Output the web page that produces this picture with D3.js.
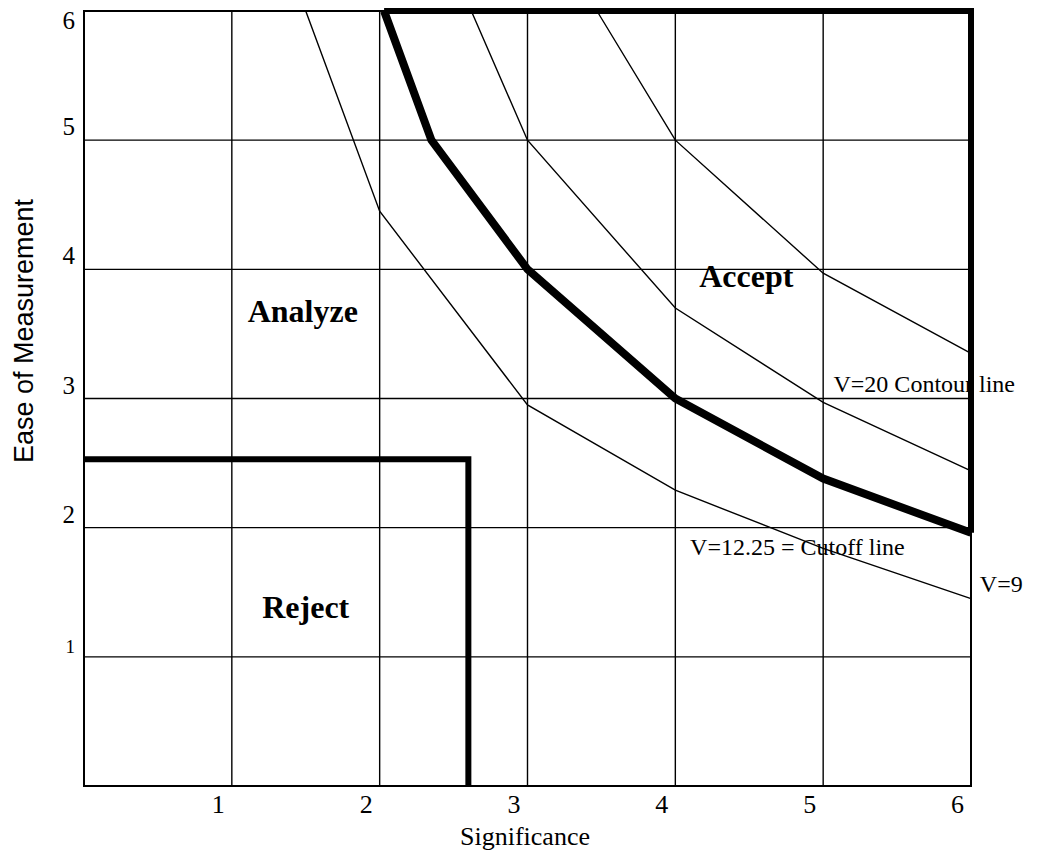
<!DOCTYPE html>
<html>
<head>
<meta charset="utf-8">
<script src="https://cdn.jsdelivr.net/npm/d3@7"></script>
<style>
    body { margin: 0; background: #fff; }
    text { fill: #000; }
</style>
</head>
<body>
<div class="canvas"></div>
<script>
//Data
const
    xTicks = [1, 2, 3, 4, 5, 6],
    yTicks = [1, 2, 3, 4, 5, 6],
    gridValues = [1, 2, 3, 4, 5];

//Contour lines V = significance x ease
const
    contourV9 = [[1.50, 6], [2, 4.45], [3, 2.95], [4, 2.29], [5, 1.84], [6, 1.45]],
    contourV1225 = [[2.03, 6], [2.35, 5], [3, 4], [4, 3], [5, 2.38], [6, 1.96]],
    contourV15 = [[2.62, 6], [3, 5], [4, 3.7], [5, 2.97], [6, 2.44]],
    contourV20 = [[3.47, 6], [4, 5], [5, 3.97], [6, 3.35]];

//Region boundaries
const
    acceptBoundary = [[2.03, 6], [6, 6], [6, 1.96]],
    rejectBoundary = [[0, 2.53], [2.6, 2.53], [2.6, 0]];

//Labels [text, x, y]
const
    regionLabels = [['Analyze', 1.48, 3.59], ['Accept', 4.48, 3.86], ['Reject', 1.5, 1.30]],
    lineLabels = [['V=20 Contour line', 5.07, 3.05], ['V=12.25 = Cutoff line', 4.10, 1.79], ['V=9', 6.06, 1.50]];

//SVG Parameters
const
    width = 1045,
    height = 854,
    paddingT = 11,
    paddingR = 74,
    paddingB = 68,
    paddingL = 84,
    serif = "'Liberation Serif', 'Times New Roman', serif",
    sans = "'Liberation Sans', Arial, sans-serif";

const svg = d3.select('.canvas')
    .append('svg')
    .attr('width', width)
    .attr('height', height)
    ;

const xScale = d3.scaleLinear()
    .domain([0, 6])
    .range([paddingL, width - paddingR])
    ;

const yScale = d3.scaleLinear()
    .domain([0, 6])
    .range([height - paddingB, paddingT])
    ;

const line = d3.line()
    .x(d => xScale(d[0]))
    .y(d => yScale(d[1]))
    ;

//Grid
svg.append('g')
    .selectAll('line')
    .data(gridValues)
    .enter()
    .append('line')
    .attr('x1', d => xScale(d))
    .attr('x2', d => xScale(d))
    .attr('y1', yScale(0))
    .attr('y2', yScale(6))
    .attr('stroke', '#000')
    .attr('stroke-width', 1.4)
    ;
svg.append('g')
    .selectAll('line')
    .data(gridValues)
    .enter()
    .append('line')
    .attr('x1', xScale(0))
    .attr('x2', xScale(6))
    .attr('y1', d => yScale(d))
    .attr('y2', d => yScale(d))
    .attr('stroke', '#000')
    .attr('stroke-width', 1.4)
    ;

//Frame
svg.append('rect')
    .attr('x', xScale(0))
    .attr('y', yScale(6))
    .attr('width', xScale(6) - xScale(0))
    .attr('height', yScale(0) - yScale(6))
    .attr('fill', 'none')
    .attr('stroke', '#000')
    .attr('stroke-width', 2)
    ;

//X-Axis
const xAxis = d3.axisBottom(xScale).tickValues(xTicks).tickFormat(d3.format('d')).tickSize(0).tickPadding(9);
svg.append('g')
    .attr('transform', `translate(0, ${yScale(0)})`)
    .call(xAxis)
    .call(g => g.select('.domain').remove())
    .call(g => g.selectAll('text')
        .attr('dx', -14)
        .attr('font-family', serif)
        .attr('font-size', 26))
    .call(g => g.append('text')
        .attr('x', 525)
        .attr('y', 59)
        .attr('text-anchor', 'middle')
        .attr('font-family', serif)
        .attr('font-size', 26)
        .text('Significance'))
    ;

//Y-Axis
const yAxis = d3.axisLeft(yScale).tickValues(yTicks).tickFormat(d3.format('d')).tickSize(0).tickPadding(9);
svg.append('g')
    .attr('transform', `translate(${xScale(0)}, 0)`)
    .call(yAxis)
    .call(g => g.select('.domain').remove())
    .call(g => g.selectAll('text')
        .attr('dy', d => d === 6 ? '0.68em' : '-0.22em')
        .attr('font-family', serif)
        .attr('font-size', d => d === 1 ? 19 : 25))
    .call(g => g.append('text')
        .attr('transform', `translate(${-xScale(0) + 33}, 331) rotate(-90)`)
        .attr('text-anchor', 'middle')
        .attr('font-family', sans)
        .attr('font-size', 27)
        .text('Ease of Measurement'))
    ;

//Labels
svg.append('g')
    .selectAll('text')
    .data(regionLabels)
    .enter()
    .append('text')
    .attr('x', d => xScale(d[1]))
    .attr('y', d => yScale(d[2]))
    .attr('text-anchor', 'middle')
    .attr('font-family', serif)
    .attr('font-weight', 'bold')
    .attr('font-size', 32)
    .text(d => d[0])
    ;
svg.append('g')
    .selectAll('text')
    .data(lineLabels)
    .enter()
    .append('text')
    .attr('x', d => xScale(d[1]))
    .attr('y', d => yScale(d[2]))
    .attr('font-family', serif)
    .attr('font-size', 24)
    .text(d => d[0])
    ;

//Contours
svg.append('g')
    .selectAll('path')
    .data([contourV9, contourV15, contourV20])
    .enter()
    .append('path')
    .attr('d', line)
    .attr('fill', 'none')
    .attr('stroke', '#000')
    .attr('stroke-width', 1.4)
    ;
svg.append('path')
    .attr('d', line(contourV1225))
    .attr('fill', 'none')
    .attr('stroke', '#000')
    .attr('stroke-width', 8)
    ;

//Regions
svg.append('path')
    .attr('d', line(acceptBoundary))
    .attr('fill', 'none')
    .attr('stroke', '#000')
    .attr('stroke-width', 6)
    .attr('stroke-linejoin', 'miter')
    ;
svg.append('path')
    .attr('d', line(rejectBoundary))
    .attr('fill', 'none')
    .attr('stroke', '#000')
    .attr('stroke-width', 6)
    ;
</script>
</body>
</html>
